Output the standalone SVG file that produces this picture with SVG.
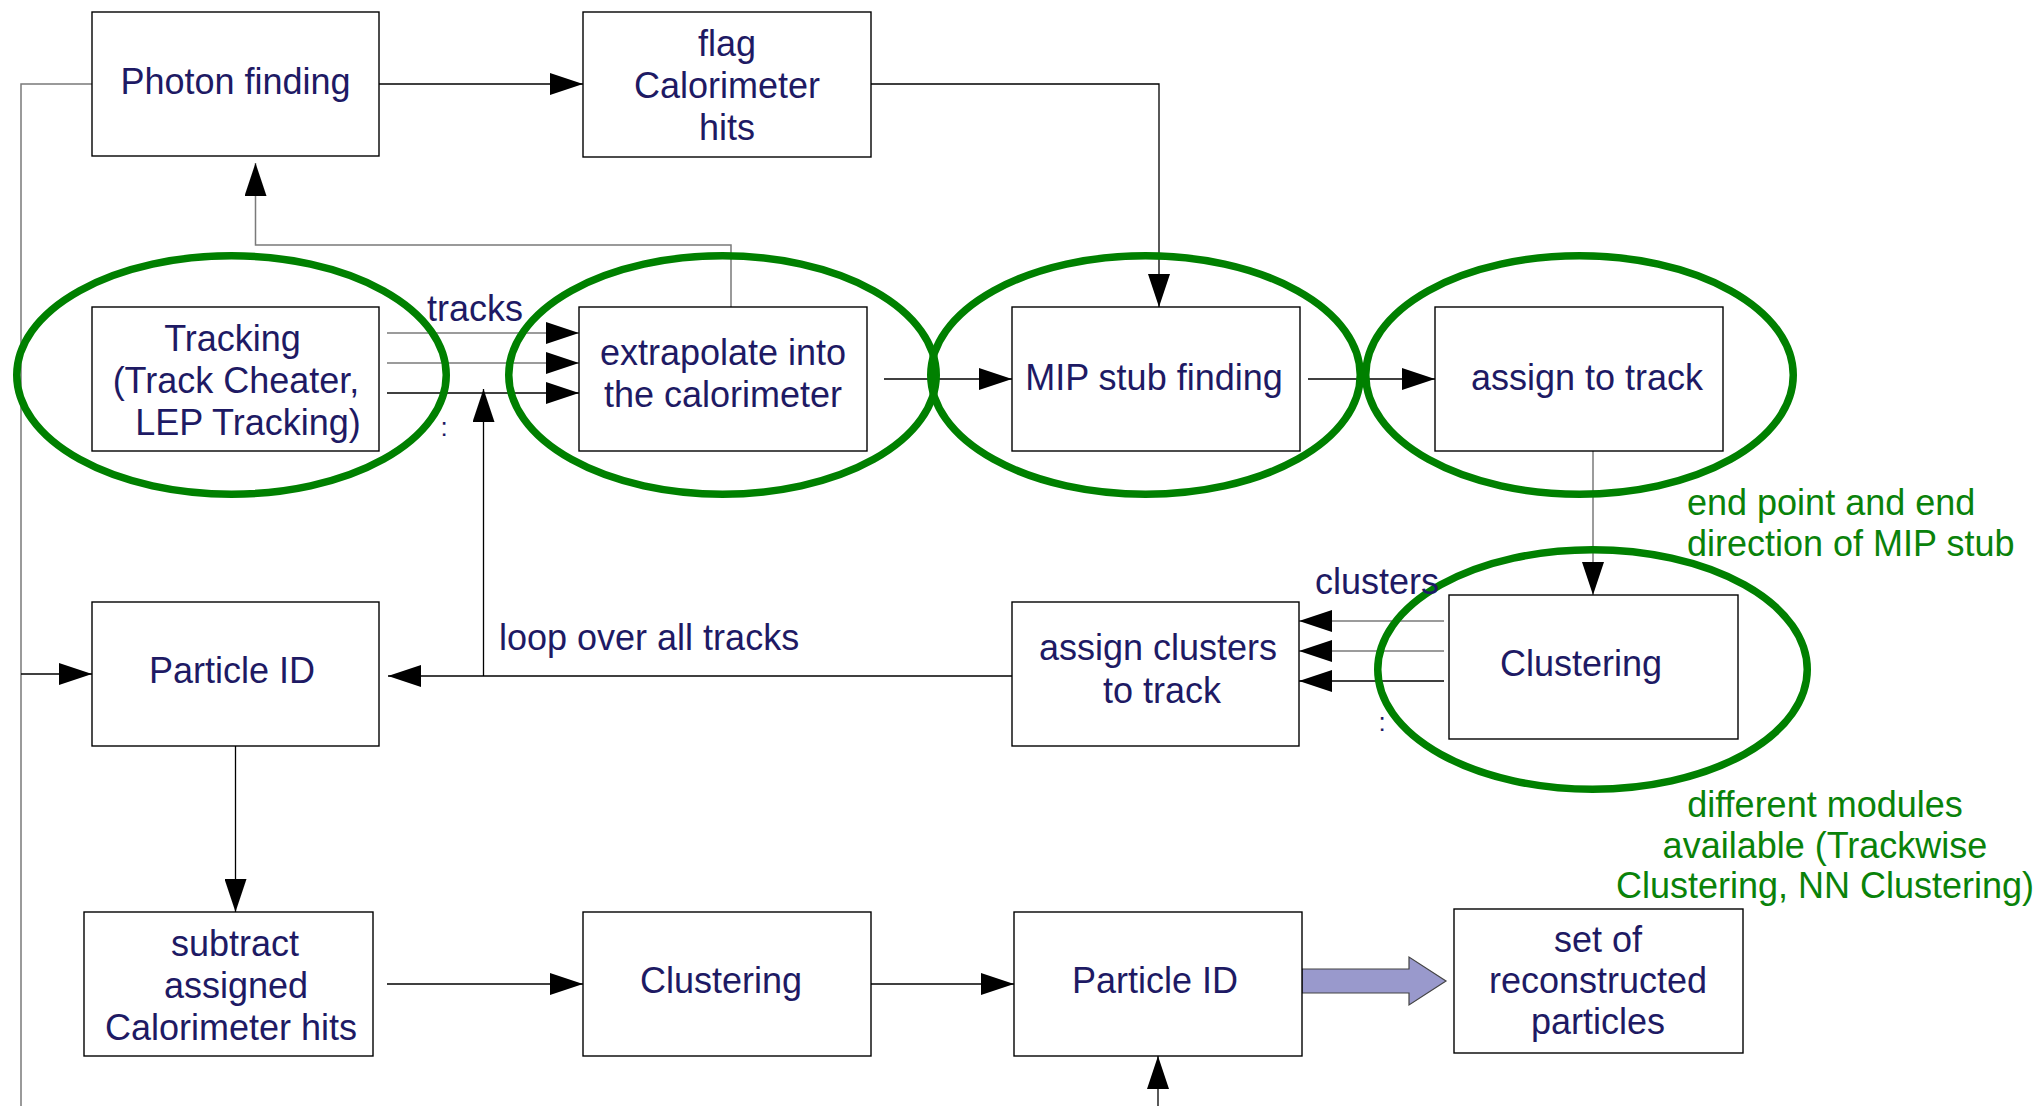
<svg xmlns="http://www.w3.org/2000/svg" width="2041" height="1106" viewBox="0 0 2041 1106">
<style>
.box{fill:#fff;stroke:#000;stroke-width:1.4}
.t{font-family:"Liberation Sans",Arial,sans-serif;font-size:36px;fill:#1e1a64}
.c{text-anchor:middle}
.g{font-family:"Liberation Sans",Arial,sans-serif;font-size:36px;fill:#0a820a}
.ell{fill:none;stroke:#008000;stroke-width:7.5}
.ln{fill:none;stroke:#000;stroke-width:1.3}
.gl{fill:none;stroke:#7a7a7a;stroke-width:1.5}
</style>
<defs>
<marker id="ah" markerUnits="userSpaceOnUse" markerWidth="34" markerHeight="22" refX="33" refY="11" orient="auto">
<path d="M0,0 L33,11 L0,22 z" fill="#000"/>
</marker>
</defs>
<rect width="2041" height="1106" fill="#fff"/>

<g id="connectors">
<path class="ln" d="M379,84 H583" marker-end="url(#ah)"/>
<path class="gl" d="M92,84 H21 V1106"/>
<path class="ln" d="M21,674 H92" marker-end="url(#ah)"/>
<path class="ln" d="M871,84 H1159 V307" marker-end="url(#ah)"/>
<path class="gl" d="M731,307 V245 H255.5 V163" marker-end="url(#ah)"/>
<path class="gl" d="M387,333 H579" marker-end="url(#ah)"/>
<path class="gl" d="M387,363 H579" marker-end="url(#ah)"/>
<path class="ln" d="M387,393 H579" marker-end="url(#ah)"/>
<path class="ln" d="M884,379 H1012" marker-end="url(#ah)"/>
<path class="ln" d="M1308,379 H1435" marker-end="url(#ah)"/>
<path class="gl" d="M1593,451 V595" marker-end="url(#ah)"/>
<path class="gl" d="M1444,621 H1299" marker-end="url(#ah)"/>
<path class="gl" d="M1444,651 H1299" marker-end="url(#ah)"/>
<path class="ln" d="M1444,681 H1299" marker-end="url(#ah)"/>
<path class="ln" d="M1012,676 H388" marker-end="url(#ah)"/>
<path class="ln" d="M483.5,676 V389" marker-end="url(#ah)"/>
<path class="ln" d="M235.5,746 V912" marker-end="url(#ah)"/>
<path class="ln" d="M387,984 H583" marker-end="url(#ah)"/>
<path class="ln" d="M871,984 H1014" marker-end="url(#ah)"/>
<path class="ln" d="M1158,1106 V1056" marker-end="url(#ah)"/>
<path d="M1302,969 H1409 V957 L1446,981 L1409,1005 V993 H1302 z" fill="#9999cc" stroke="#444" stroke-width="1.2"/>
</g>

<g id="photon"><rect class="box" x="92" y="12" width="287" height="144"/><text class="t c" x="235.5" y="94">Photon finding</text></g>
<g id="flag"><rect class="box" x="583" y="12" width="288" height="145"/><text class="t c" x="727" y="56">flag</text><text class="t c" x="727" y="98">Calorimeter</text><text class="t c" x="727" y="140">hits</text></g>
<g id="tracking"><rect class="box" x="92" y="307" width="287" height="144"/><text class="t c" x="232.5" y="351">Tracking</text><text class="t c" x="236" y="393">(Track Cheater,</text><text class="t c" x="248" y="435">LEP Tracking)</text></g>
<g id="extrapolate"><rect class="box" x="579" y="307" width="288" height="144"/><text class="t c" x="723" y="365">extrapolate into</text><text class="t c" x="723" y="407">the calorimeter</text></g>
<g id="mip"><rect class="box" x="1012" y="307" width="288" height="144"/><text class="t c" x="1154" y="390">MIP stub finding</text></g>
<g id="assign"><rect class="box" x="1435" y="307" width="288" height="144"/><text class="t c" x="1587" y="390">assign to track</text></g>
<g id="pid1"><rect class="box" x="92" y="602" width="287" height="144"/><text class="t c" x="232" y="683">Particle ID</text></g>
<g id="assignclusters"><rect class="box" x="1012" y="602" width="287" height="144"/><text class="t c" x="1158" y="660">assign clusters</text><text class="t c" x="1162" y="703">to track</text></g>
<g id="clustering1"><rect class="box" x="1449" y="595" width="289" height="144"/><text class="t c" x="1581" y="676">Clustering</text></g>
<g id="subtract"><rect class="box" x="84" y="912" width="289" height="144"/><text class="t c" x="235" y="956">subtract</text><text class="t c" x="236" y="998">assigned</text><text class="t c" x="231" y="1040">Calorimeter hits</text></g>
<g id="clustering2"><rect class="box" x="583" y="912" width="288" height="144"/><text class="t c" x="721" y="993">Clustering</text></g>
<g id="pid2"><rect class="box" x="1014" y="912" width="288" height="144"/><text class="t c" x="1155" y="993">Particle ID</text></g>
<g id="set"><rect class="box" x="1454" y="909" width="289" height="144"/><text class="t c" x="1598" y="952">set of</text><text class="t c" x="1598" y="993">reconstructed</text><text class="t c" x="1598" y="1034">particles</text></g>

<g id="highlights">
<ellipse class="ell" cx="231.5" cy="375" rx="214.75" ry="119.25"/>
<ellipse class="ell" cx="722.5" cy="375" rx="213.75" ry="119.25"/>
<ellipse class="ell" cx="1145.5" cy="375" rx="214.75" ry="119.25"/>
<ellipse class="ell" cx="1579.5" cy="375" rx="213.75" ry="119.25"/>
<ellipse class="ell" cx="1592.5" cy="669.5" rx="214.75" ry="119.75"/>
</g>

<g id="labels">
<text class="t" x="427" y="321">tracks</text>
<text class="t c" x="444" y="436" style="font-size:26px">:</text>
<text class="t" x="1315" y="594">clusters</text>
<text class="t c" x="1382" y="731" style="font-size:26px">:</text>
<text class="t" x="499" y="650">loop over all tracks</text>
<text class="g" x="1687" y="515">end point and end</text>
<text class="g" x="1687" y="556">direction of MIP stub</text>
<text class="g c" x="1825" y="817">different modules</text>
<text class="g c" x="1825" y="858">available (Trackwise</text>
<text class="g c" x="1825" y="898">Clustering, NN Clustering)</text>
</g>
</svg>
